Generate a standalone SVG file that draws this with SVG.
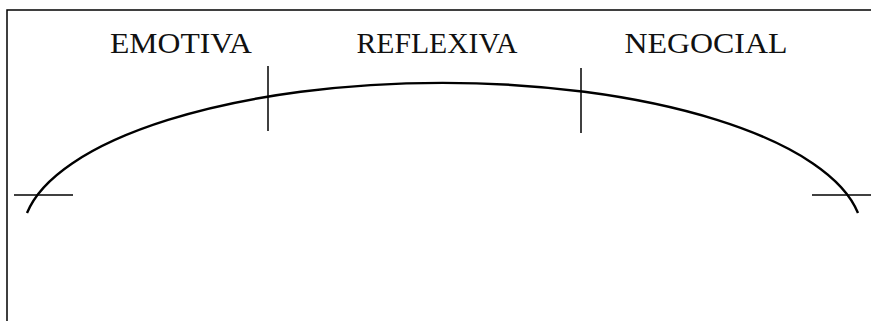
<svg xmlns="http://www.w3.org/2000/svg" width="871" height="321" viewBox="0 0 871 321">
<style>
.ln{stroke:#000;stroke-width:1.5;fill:none}
.arc{stroke:#000;stroke-width:2.4;fill:none}
.lbl{font-family:"Liberation Serif","Times New Roman",serif;font-size:30px;fill:#111;text-anchor:middle}
</style>
<rect width="871" height="321" fill="#fff"/>
<g id="frame">
<path class="ln" d="M7 321 V10 H871"/>
</g>
<g id="curve">
<path class="arc" d="M27 213 A420 152.4 0 0 1 858 213"/>
</g>
<g id="connectors">
<line class="ln" x1="14" y1="195" x2="73" y2="195"/>
<line class="ln" x1="812" y1="195" x2="871" y2="195"/>
<line class="ln" x1="268" y1="66" x2="268" y2="131"/>
<line class="ln" x1="581" y1="68" x2="581" y2="133"/>
</g>
<g id="emotiva"><text class="lbl" x="181" y="53" textLength="142" lengthAdjust="spacingAndGlyphs">EMOTIVA</text></g>
<g id="reflexiva"><text class="lbl" x="437" y="53" textLength="161" lengthAdjust="spacingAndGlyphs">REFLEXIVA</text></g>
<g id="negocial"><text class="lbl" x="706" y="53" textLength="163" lengthAdjust="spacingAndGlyphs">NEGOCIAL</text></g>
</svg>
